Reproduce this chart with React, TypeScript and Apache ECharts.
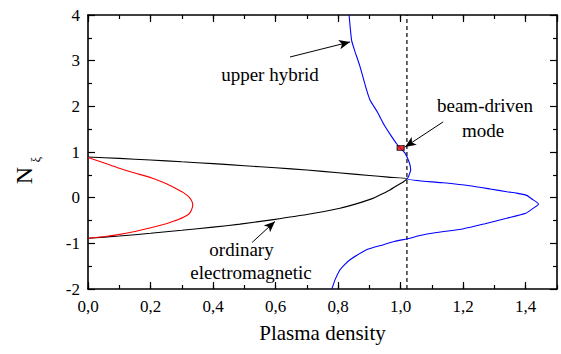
import React, { useEffect, useRef } from "react";
import * as echarts from "echarts";

// Data: [plasma density, N_xi]
const ordinaryEM: [number, number][] = [
  [0, 0.89], [0.1, 0.86], [0.2, 0.825], [0.3, 0.785], [0.4, 0.745], [0.5, 0.70],
  [0.6, 0.655], [0.7, 0.605], [0.8, 0.545], [0.9, 0.485], [0.96, 0.45], [1.02, 0.415],
  [1.009, 0.35], [0.99, 0.27], [0.966, 0.17], [0.94, 0.08], [0.913, -0.01],
  [0.86, -0.13], [0.806, -0.23], [0.7, -0.37], [0.593, -0.48], [0.486, -0.58],
  [0.4, -0.645], [0.3, -0.715], [0.2, -0.78], [0.1, -0.84], [0, -0.89],
];

const redBranch: [number, number][] = [
  [0, 0.88], [0.05, 0.765], [0.097, 0.65], [0.15, 0.54], [0.204, 0.43], [0.245, 0.32],
  [0.278, 0.21], [0.305, 0.11], [0.321, 0.03], [0.331, -0.06], [0.335, -0.155],
  [0.331, -0.27], [0.321, -0.37], [0.289, -0.48], [0.25, -0.57], [0.204, -0.655],
  [0.15, -0.74], [0.097, -0.81], [0.05, -0.855], [0, -0.89],
];

const upperHybrid: [number, number][] = [
  [0.835, 4.0], [0.843, 3.45], [0.851, 3.26], [0.87, 2.87], [0.891, 2.36], [0.902, 2.14],
  [0.925, 1.88], [0.945, 1.62], [0.967, 1.38], [0.987, 1.18], [1.0, 1.08], [1.014, 0.975],
  [1.028, 0.76], [1.032, 0.61], [1.025, 0.46], [1.021, 0.41], [1.126, 0.33], [1.147, 0.32],
  [1.22, 0.26], [1.286, 0.19], [1.34, 0.13], [1.371, 0.1], [1.403, 0.05], [1.42, -0.03],
  [1.441, -0.14], [1.42, -0.25], [1.4, -0.34], [1.339, -0.45], [1.27, -0.57], [1.201, -0.68],
  [1.11, -0.77], [1.062, -0.83], [1.021, -0.9], [0.98, -0.96], [0.945, -1.03], [0.891, -1.14],
  [0.865, -1.24], [0.838, -1.36], [0.82, -1.47], [0.806, -1.58], [0.79, -1.8], [0.78, -2.0],
];

const beamMode: [number, number][] = [[1.0, 1.09]];
const dashedX = 1.02;

const xTickValues = { min: 0, max: 1.5, interval: 0.2, minorInterval: 0.1 };
const yTickValues = { min: -2, max: 4, interval: 1 };

// Annotation arrows: [from, to] in data coordinates
const arrowUpperHybrid: [number, number][] = [[0.646, 3.08], [0.838, 3.41]];
const arrowBeam: [number, number][] = [[1.136, 1.66], [1.014, 1.11]];
const arrowOrdinary: [number, number][] = [[0.525, -0.98], [0.598, -0.52]];

const FONT = "Liberation Serif";

export default function App() {
  const ref = useRef<HTMLDivElement>(null);
  useEffect(() => {
    if (!ref.current) return;
    const chart = echarts.init(ref.current, undefined, { renderer: "svg" });
    const axisLine = { show: true, onZero: false, lineStyle: { color: "#000", width: 1.6 } };
    const majorTick = { show: true, inside: true, length: 7, lineStyle: { color: "#000", width: 1.2 } };
    const minorOnlyTick = { show: true, inside: true, length: 4, lineStyle: { color: "#000", width: 1.2 } };
    const xFmt = (v: number) => v.toFixed(1).replace(".", ",");
    const arrowLine = (a: [number, number][]) => [
      { coord: a[0], symbol: "none" },
      { coord: a[1], symbol: "arrow" },
    ];
    const txt = (text: string, x: number, y: number, size = 19, rotation = 0) => ({
      type: "text", x, y, rotation,
      style: { text, fontFamily: FONT, fontSize: size, fill: "#000", textAlign: "center", verticalAlign: "middle" },
    });
    chart.setOption({
      animation: false,
      backgroundColor: "#fff",
      grid: { left: 88, top: 15, width: 469, height: 274, containLabel: false },
      xAxis: [
        {
          type: "value", position: "bottom", min: xTickValues.min, max: xTickValues.max,
          interval: xTickValues.interval, axisLine, axisTick: majorTick, splitLine: { show: false },
          axisLabel: { formatter: xFmt, color: "#000", fontFamily: FONT, fontSize: 17, margin: 9, showMaxLabel: false },
          name: "Plasma density", nameLocation: "middle", nameGap: 33,
          nameTextStyle: { color: "#000", fontFamily: FONT, fontSize: 21 },
        },
        {
          type: "value", position: "top", min: xTickValues.min, max: xTickValues.max,
          interval: xTickValues.interval, axisLine, axisTick: majorTick, splitLine: { show: false },
          axisLabel: { show: false },
        },
        {
          type: "value", position: "bottom", min: xTickValues.min, max: xTickValues.max,
          interval: xTickValues.minorInterval, axisLine: { show: false, onZero: false }, axisTick: minorOnlyTick,
          splitLine: { show: false }, axisLabel: { show: false },
        },
        {
          type: "value", position: "top", min: xTickValues.min, max: xTickValues.max,
          interval: xTickValues.minorInterval, axisLine: { show: false, onZero: false }, axisTick: minorOnlyTick,
          splitLine: { show: false }, axisLabel: { show: false },
        },
      ],
      yAxis: [
        {
          type: "value", position: "left", min: yTickValues.min, max: yTickValues.max,
          interval: yTickValues.interval, axisLine, axisTick: majorTick,
          minorTick: { show: true, splitNumber: 2, length: 4, lineStyle: { color: "#000", width: 1.2 } },
          splitLine: { show: false }, minorSplitLine: { show: false },
          axisLabel: { color: "#000", fontFamily: FONT, fontSize: 17, margin: 8 },
        },
        {
          type: "value", position: "right", min: yTickValues.min, max: yTickValues.max,
          interval: yTickValues.interval, axisLine, axisTick: majorTick,
          minorTick: { show: true, splitNumber: 2, length: 4, lineStyle: { color: "#000", width: 1.2 } },
          splitLine: { show: false }, minorSplitLine: { show: false },
          axisLabel: { show: false },
        },
      ],
      series: [
        {
          type: "line", name: "dashed", data: [[dashedX, yTickValues.min], [dashedX, yTickValues.max]],
          symbol: "none", lineStyle: { color: "#000", width: 1.2, type: [4, 3] }, silent: true,
        },
        {
          type: "line", name: "ordinary electromagnetic", data: ordinaryEM, symbol: "none",
          smooth: 0.2, lineStyle: { color: "#000", width: 1.1 },
          markLine: {
            silent: true, symbolSize: [7, 11], label: { show: false },
            lineStyle: { color: "#000", width: 1, type: "solid" },
            emphasis: { disabled: true },
            data: [arrowLine(arrowUpperHybrid), arrowLine(arrowBeam), arrowLine(arrowOrdinary)],
          },
        },
        {
          type: "line", name: "red", data: redBranch, symbol: "none", smooth: 0.2,
          lineStyle: { color: "#ff0000", width: 1.1 },
        },
        {
          type: "line", name: "upper hybrid", data: upperHybrid, symbol: "none", smooth: 0.2,
          lineStyle: { color: "#0000ff", width: 1.1 },
        },
        {
          type: "scatter", name: "beam-driven mode", data: beamMode, symbol: "rect",
          symbolSize: [7, 5], itemStyle: { color: "#e00000", borderColor: "#000", borderWidth: 1 },
          z: 5,
        },
      ],
      graphic: [
        txt("upper hybrid", 270, 74.5),
        txt("beam-driven", 485, 105.5),
        txt("mode", 483, 130),
        txt("ordinary", 241.5, 249.5),
        txt("electromagnetic", 251, 272.5),
        txt("N", 24, 175.5, 24, Math.PI / 2),
        txt("ξ", 36, 159.5, 12, Math.PI / 2),
      ],
    });
    return () => chart.dispose();
  }, []);
  return <div ref={ref} style={{ width: 561, height: 354, position: "absolute", left: 0, top: 0 }} />;
}
